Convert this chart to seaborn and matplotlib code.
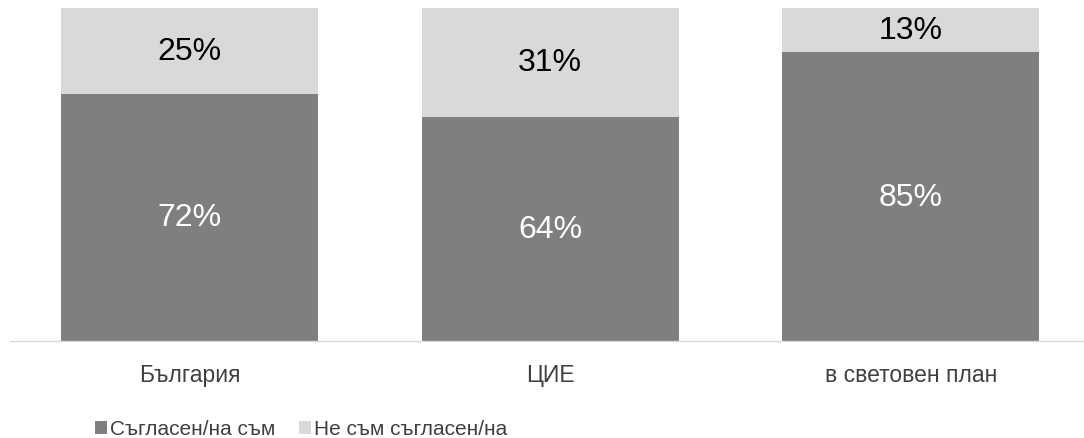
import matplotlib
matplotlib.use("Agg")
import matplotlib.pyplot as plt
from matplotlib.patches import Patch
import seaborn as sns
import pandas as pd

categories = ["България", "ЦИЕ", "в световен план"]
agree = [72, 64, 85]
disagree = [25, 31, 13]
series_names = ["Съгласен/на съм", "Не съм съгласен/на"]

DARK = "#7f7f7f"
LIGHT = "#d9d9d9"
TEXT = "#404040"

sns.set_theme(style="white")
plt.rcParams["font.family"] = ["Liberation Sans", "DejaVu Sans"]

df = pd.DataFrame({"cat": categories, "agree": agree, "disagree": disagree})
df["total"] = df["agree"] + df["disagree"]
df["agree_share"] = df["agree"] / df["total"] * 100
df["full"] = 100.0

fig = plt.figure(figsize=(10.84, 4.39), dpi=100)
ax = fig.add_axes([9.5 / 1084, 1 - 342 / 439, 1081.5 / 1084, 333 / 439])

# 100% stacked: full-height light bar, then the dark share over it
sns.barplot(data=df, x="cat", y="full", color=LIGHT, saturation=1, width=0.713,
            linewidth=0, ax=ax)
sns.barplot(data=df, x="cat", y="agree_share", color=DARK, saturation=1, width=0.713,
            linewidth=0, ax=ax)

for i, row in df.iterrows():
    ax.text(i, row["agree_share"] / 2, f"{row['agree']}%", ha="center", va="center",
            color="white", fontsize=23)
    ax.text(i, (row["agree_share"] + 100) / 2, f"{row['disagree']}%", ha="center",
            va="center", color="black", fontsize=23)

ax.set_xlim(-0.5, 2.5)
ax.set_ylim(0, 100)
ax.set_xlabel("")
ax.set_ylabel("")
ax.set_yticks([])
ax.tick_params(axis="x", length=0, pad=16, labelsize=16.5, labelcolor=TEXT)
for side in ["top", "left", "right"]:
    ax.spines[side].set_visible(False)
ax.spines["bottom"].set_color(LIGHT)
ax.spines["bottom"].set_linewidth(1.0)

handles = [Patch(facecolor=DARK, edgecolor="none"), Patch(facecolor=LIGHT, edgecolor="none")]
fig.legend(handles, series_names, loc="center left", bbox_to_anchor=(95 / 1084, 1 - 430 / 439),
           ncol=2, frameon=False, fontsize=15, labelcolor=TEXT, borderpad=0, borderaxespad=0,
           handlelength=0.58, handleheight=0.58, handletextpad=0.12, columnspacing=1.15)

fig.savefig("out.png", dpi=100)
